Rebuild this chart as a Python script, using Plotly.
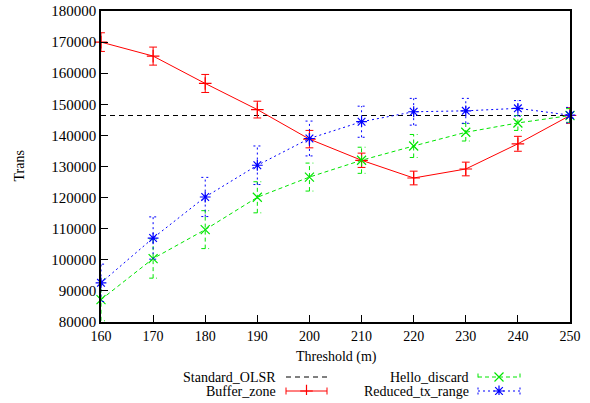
import plotly.graph_objects as go

# ---------------- data ----------------
threshold = [160, 170, 180, 190, 200, 210, 220, 230, 240, 250]
standard_olsr = 146400
buffer_zone = [170000, 165500, 156700, 148300, 138800, 132000, 126300, 129200, 137300, 146400]
buffer_err = [3000, 2900, 2900, 2700, 2800, 2300, 2200, 2200, 2400, 2500]
hello_discard = [87200, 100400, 109700, 120100, 126600, 132000, 136600, 141000, 144000, 146400]
hello_err = [6800, 6300, 6100, 5000, 4500, 4200, 3700, 2800, 2400, 2200]
reduced_tx = [92600, 107000, 120200, 130400, 139000, 144400, 147600, 147900, 148700, 146500]
reduced_err = [6000, 6800, 6300, 6200, 5600, 5000, 4300, 4000, 2500, 2500]

FONT = "Liberation Serif, DejaVu Serif, serif"
RED, GREEN, BLUE = "#ff0000", "#00e600", "#0000ff"

W, H = 590, 403
ML, MR, MT, MB = 101, 20, 11, 8
plot_w = W - ML - MR
plot_h = H - MT - MB
main_bottom = (H - MB - 322) / plot_h


def px(x):  # page pixel x -> paper
    return (x - ML) / plot_w


def py(y):  # page pixel y -> paper
    return (H - MB - y) / plot_h


fig = go.Figure()


def errbar_trace(xs, ys, es, color, dash, cap=0.75):
    ex, ey = [], []
    for x, y, e in zip(xs, ys, es):
        ex += [x, x, None, x - cap, x + cap, None, x - cap, x + cap, None]
        ey += [y - e, y + e, None, y - e, y - e, None, y + e, y + e, None]
    return go.Scatter(x=ex, y=ey, mode="lines", line=dict(color=color, width=1, dash=dash),
                      showlegend=False, hoverinfo="skip", cliponaxis=False)


# Standard OLSR reference line
fig.add_trace(go.Scatter(x=[threshold[0], threshold[-1]], y=[standard_olsr, standard_olsr],
                         mode="lines", line=dict(color="black", width=1, dash="5px,4px"),
                         showlegend=False))

series = [
    (buffer_zone, buffer_err, RED, "solid", "cross-thin-open"),
    (hello_discard, hello_err, GREEN, "4px,3px", "x-thin-open"),
    (reduced_tx, reduced_err, BLUE, "2px,3px", "asterisk-open"),
]
for ys, es, col, dash, sym in series:
    fig.add_trace(errbar_trace(threshold, ys, es, col, dash))
    fig.add_trace(go.Scatter(x=threshold, y=ys, mode="lines+markers",
                             line=dict(color=col, width=1, dash=dash),
                             marker=dict(symbol=sym, size=9, color=col, line=dict(color=col, width=1.2)),
                             showlegend=False, cliponaxis=False))

# ---------------- custom legend (gnuplot style: text then sample) ----------------
legend_items = [
    ("Standard_OLSR", "black", "5px,4px", None, False, 0, 0),
    ("Buffer_zone", RED, "solid", "cross-thin-open", True, 0, 1),
    ("Hello_discard", GREEN, "4px,3px", "x-thin-open", True, 1, 0),
    ("Reduced_tx_range", BLUE, "2px,3px", "asterisk-open", True, 1, 1),
]
col_text_right = [278, 471]
col_sample = [(286, 327), (478, 520)]
row_y = [377, 391]

annotations = []
for name, col, dash, sym, caps, c, r in legend_items:
    y = row_y[r]
    x0, x1 = col_sample[c]
    annotations.append(dict(x=px(col_text_right[c]), y=py(y), xref="paper", yref="paper", text=name,
                            showarrow=False, xanchor="right", yanchor="middle",
                            font=dict(family=FONT, size=14, color="black")))
    fig.add_trace(go.Scatter(x=[x0, x1], y=[y, y], xaxis="x2", yaxis="y2", mode="lines",
                             line=dict(color=col, width=1, dash=dash), showlegend=False,
                             hoverinfo="skip"))
    if caps:
        fig.add_trace(go.Scatter(x=[x0, x0, None, x1, x1], y=[y - 3.5, y + 3.5, None, y - 3.5, y + 3.5],
                                 xaxis="x2", yaxis="y2", mode="lines",
                                 line=dict(color=col, width=1, dash=dash), showlegend=False,
                                 hoverinfo="skip"))
    if sym:
        fig.add_trace(go.Scatter(x=[(x0 + x1) / 2], y=[y], xaxis="x2", yaxis="y2", mode="markers",
                                 marker=dict(symbol=sym, size=9, color=col, line=dict(color=col, width=1.2)),
                                 showlegend=False, hoverinfo="skip"))

# axis titles
annotations.append(dict(x=px(336), y=py(357), xref="paper", yref="paper", text="Threshold (m)",
                        showarrow=False, xanchor="center", yanchor="middle",
                        font=dict(family=FONT, size=14, color="black")))
annotations.append(dict(x=px(19), y=py(166.5), xref="paper", yref="paper", text="Trans",
                        showarrow=False, textangle=-90, xanchor="center", yanchor="middle",
                        font=dict(family=FONT, size=14, color="black")))

fig.update_layout(
    width=W, height=H,
    margin=dict(l=ML, r=MR, t=MT, b=MB, autoexpand=False),
    paper_bgcolor="white", plot_bgcolor="rgba(0,0,0,0)",
    font=dict(family=FONT, size=14, color="black"),
    showlegend=False,
    annotations=annotations,
    xaxis=dict(range=[160, 250], dtick=10, tick0=160, ticks="inside", ticklen=7, tickwidth=1,
               tickcolor="black", showline=True, linecolor="black", linewidth=1.5, mirror=True,
               showgrid=False, zeroline=False, tickfont=dict(family=FONT, size=14),
               automargin=False, domain=[0, 1], anchor="y"),
    yaxis=dict(range=[80000, 180000], dtick=10000, ticks="inside", ticklen=7, tickwidth=1,
               tickcolor="black", showline=True, linecolor="black", linewidth=1.5, mirror=True,
               showgrid=False, zeroline=False, tickformat="d", tickfont=dict(family=FONT, size=15),
               ticklabelstandoff=0, automargin=False,
               domain=[main_bottom, 1], anchor="x"),
    # pixel-space axes used only for the legend samples
    xaxis2=dict(range=[ML, W - MR], domain=[0, 1], anchor="y2", visible=False, fixedrange=True),
    yaxis2=dict(range=[H - MB, MT], domain=[0, 1], anchor="x2", visible=False, fixedrange=True),
)

fig.write_html("out.html")
